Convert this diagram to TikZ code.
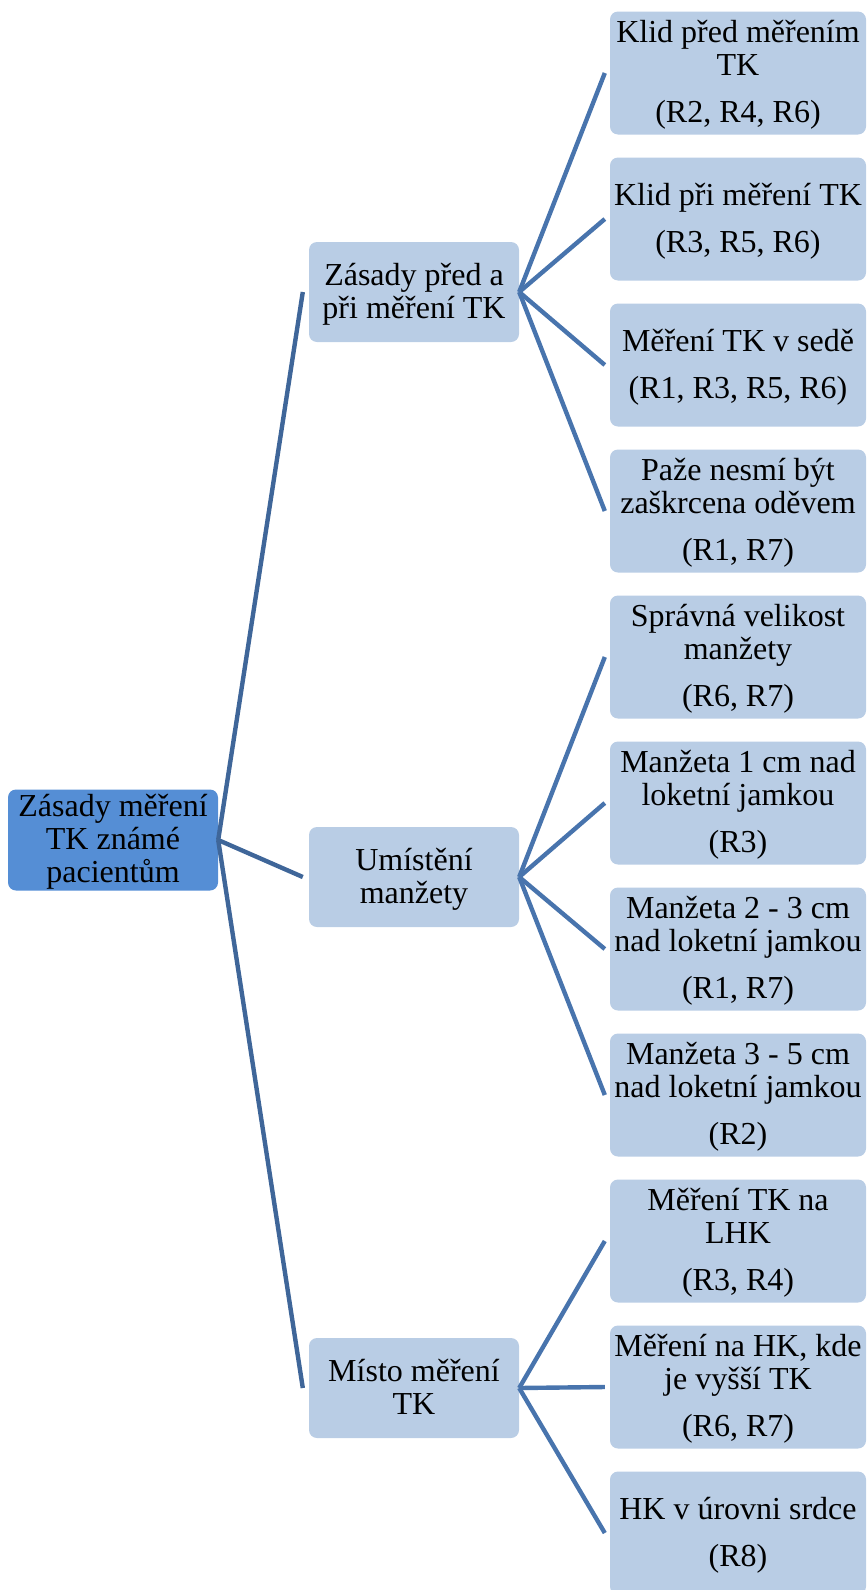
\documentclass[tikz,border=0pt]{standalone}
\usepackage{fontspec}
\setmainfont{Liberation Serif}
\definecolor{rootfill}{HTML}{558ED5}
\definecolor{boxfill}{HTML}{B9CDE5}
\definecolor{rootline}{HTML}{3F6699}
\definecolor{leafline}{HTML}{4874AD}
\tikzset{
  base/.style={rounded corners=8pt, inner sep=0pt, align=center, font=\fontsize{32}{33}\selectfont, text=black},
  rootbox/.style={base, fill=rootfill, minimum width=210pt, minimum height=101pt},
  midbox/.style={base, fill=boxfill, minimum width=210pt, minimum height=100pt},
  leafbox/.style={base, fill=boxfill, minimum width=256pt, minimum height=123pt},
  rootlink/.style={draw=rootline, line width=4.4pt},
  leaflink/.style={draw=leafline, line width=4.4pt},
}
\newcommand{\gp}{\\[14pt]}
\newcommand{\bt}[1]{\raisebox{-3pt}[\height][\depth]{\begin{tabular}{@{}c@{}}#1\end{tabular}}}
\begin{document}
\begin{tikzpicture}[x=1pt,y=-1pt]
\useasboundingbox (0,0) rectangle (867,1590);
\clip (0,0) rectangle (867,1590);
\node[rootbox] (root) at (113,840) {\bt{Zásady měření\\TK známé\\pacientům}};
\node[midbox] (a) at (414,292) {\bt{Zásady před a\\při měření TK}};
\node[midbox] (b) at (414,877) {\bt{Umístění\\manžety}};
\node[midbox] (c) at (414,1388) {\bt{Místo měření\\TK}};
\node[leafbox] (a1) at (738,73) {\bt{Klid před měřením\\TK\gp(R2, R4, R6)}};
\node[leafbox] (a2) at (738,219) {\bt{Klid při měření TK\gp(R3, R5, R6)}};
\node[leafbox] (a3) at (738,365) {\bt{Měření TK v sedě\gp(R1, R3, R5, R6)}};
\node[leafbox] (a4) at (738,511) {\bt{Paže nesmí být\\zaškrcena oděvem\gp(R1, R7)}};
\node[leafbox] (b1) at (738,657) {\bt{Správná velikost\\manžety\gp(R6, R7)}};
\node[leafbox] (b2) at (738,803) {\bt{Manžeta 1 cm nad\\loketní jamkou\gp(R3)}};
\node[leafbox] (b3) at (738,949) {\bt{Manžeta 2 - 3 cm\\nad loketní jamkou\gp(R1, R7)}};
\node[leafbox] (b4) at (738,1095) {\bt{Manžeta 3 - 5 cm\\nad loketní jamkou\gp(R2)}};
\node[leafbox] (c1) at (738,1241) {\bt{Měření TK na\\LHK\gp(R3, R4)}};
\node[leafbox] (c2) at (738,1387) {\bt{Měření na HK, kde\\je vyšší TK\gp(R6, R7)}};
\node[leafbox] (c3) at (738,1533) {\bt{HK v úrovni srdce\gp(R8)}};
\foreach \m in {a,b,c}
  \draw[rootlink] (root.east) -- ([xshift=-6pt]\m.west);
\foreach \m in {a1,a2,a3,a4}
  \draw[leaflink] (a.east) -- ([xshift=-5pt]\m.west);
\foreach \m in {b1,b2,b3,b4}
  \draw[leaflink] (b.east) -- ([xshift=-5pt]\m.west);
\foreach \m in {c1,c2,c3}
  \draw[leaflink] (c.east) -- ([xshift=-5pt]\m.west);
\end{tikzpicture}
\end{document}
